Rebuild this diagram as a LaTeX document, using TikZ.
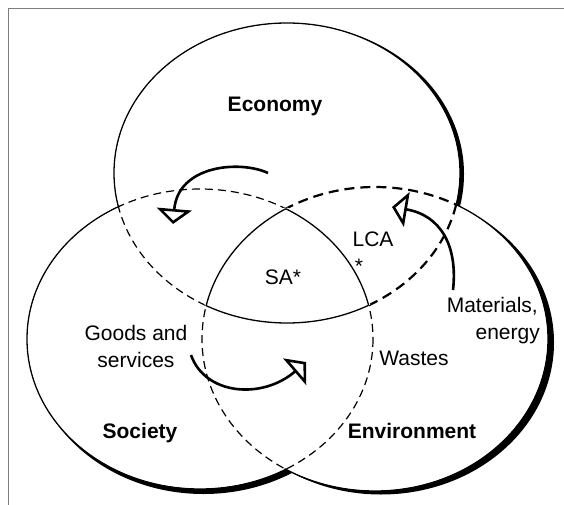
\documentclass[tikz,border=0pt]{standalone}
\usepackage{fontspec}
\setmainfont{Liberation Sans}
\usetikzlibrary{arrows.meta}
\definecolor{framegray}{RGB}{125,125,125}
\begin{document}
\begin{tikzpicture}[x=1pt,y=-1pt,
  lbl/.style={font=\fontsize{21}{25}\selectfont, inner sep=0pt, anchor=base},
  heading/.style={font=\fontsize{21}{25}\selectfont\bfseries, inner sep=0pt, anchor=base},
  rim/.style={line width=1.3pt},
  thindash/.style={line width=1.2pt, dash pattern=on 8pt off 5pt},
  thickdash/.style={line width=2.2pt, dash pattern=on 10pt off 6pt},
  flow/.style={line width=2.6pt, -{Triangle[open, fill=white, width=35pt, length=15pt]}},
]
\useasboundingbox (0,0) rectangle (564,505);
\def\EllEco{(287,173) ellipse [x radius=173, y radius=150]}
\def\EllSoc{(200,339) ellipse [x radius=173, y radius=150]}
\def\EllEnv{(375,339) ellipse [x radius=173, y radius=152]}

% frame (top and left edges)
\coordinate (fbl) at (8.5,505);
\coordinate (ftl) at (8.5,8.5);
\coordinate (ftr) at (564,8.5);
\draw[framegray, line width=1.6pt] (fbl) -- (ftl) -- (ftr);

% shadows
\fill (291,174) ellipse [x radius=173, y radius=150];
\fill (203.5,344) ellipse [x radius=173, y radius=150];
\fill (381,342.5) ellipse [x radius=173, y radius=152];

% white bodies
\fill[white] \EllEco;
\fill[white] \EllSoc;
\fill[white] \EllEnv;

% full rims, then erase the inner parts
\draw[rim] \EllEco;
\draw[rim] \EllSoc;
\draw[rim] \EllEnv;
\fill[white] (287,173) ellipse [x radius=171.8, y radius=148.8];
\fill[white] (200,339) ellipse [x radius=171.8, y radius=148.8];
\fill[white] (375,339) ellipse [x radius=171.8, y radius=150.8];

% dashed inner arcs
\begin{scope}\clip \EllSoc; \draw[thindash] \EllEco; \end{scope}
\begin{scope}\clip \EllEco; \draw[thindash] \EllSoc; \end{scope}
\begin{scope}\clip \EllEnv; \draw[thindash] \EllSoc; \end{scope}
\begin{scope}\clip \EllSoc; \draw[thindash] \EllEnv; \end{scope}
\begin{scope}\clip \EllEnv; \draw[thickdash] \EllEco; \end{scope}
\begin{scope}\clip \EllEco; \draw[thickdash] \EllEnv; \end{scope}

% SA region arcs (solid)
\begin{scope}\clip \EllSoc; \clip \EllEnv; \draw[white, line width=3.6pt] \EllEco; \end{scope}
\begin{scope}\clip \EllEco; \clip \EllEnv; \draw[white, line width=3.6pt] \EllSoc; \end{scope}
\begin{scope}\clip \EllEco; \clip \EllSoc; \draw[white, line width=3.6pt] \EllEnv; \end{scope}
\begin{scope}\clip \EllSoc; \clip \EllEnv; \draw[rim] \EllEco; \end{scope}
\begin{scope}\clip \EllEco; \clip \EllEnv; \draw[rim] \EllSoc; \end{scope}
\begin{scope}\clip \EllEco; \clip \EllSoc; \draw[rim] \EllEnv; \end{scope}

% labels
\node[heading] (eco) at (275,112) {Economy};
\node[heading] (soc) at (140,438) {Society};
\node[heading] (env) at (412,438) {Environment};
\node[lbl] (sa) at (283,284) {SA*};
\node[lbl] (lca) at (373,246) {LCA};
\node[lbl] (lcastar) at (359,273) {*};
\node[lbl, anchor=base east] (mat) at (538,312) {Materials,};
\node[lbl, anchor=base east] (ene) at (540,339) {energy};
\node[lbl] (goods) at (136,340) {Goods and};
\node[lbl] (serv) at (136,367) {services};
\node[lbl] (waste) at (414,365) {Wastes};

% flow arrows
\coordinate (a1s) at (268,173);
\coordinate (a1e) at (173,224);
\coordinate (a2s) at (453,290);
\coordinate (a2e) at (392,207);
\coordinate (a3s) at (191,355);
\coordinate (a3e) at (306,362);
\draw[flow] (a1s) .. controls (240,160) and (178,165) .. (a1e);
\draw[flow] (a2s) .. controls (458,245) and (440,215) .. (a2e);
\draw[flow] (a3s) .. controls (205,395) and (262,400) .. (a3e);
\end{tikzpicture}
\end{document}
